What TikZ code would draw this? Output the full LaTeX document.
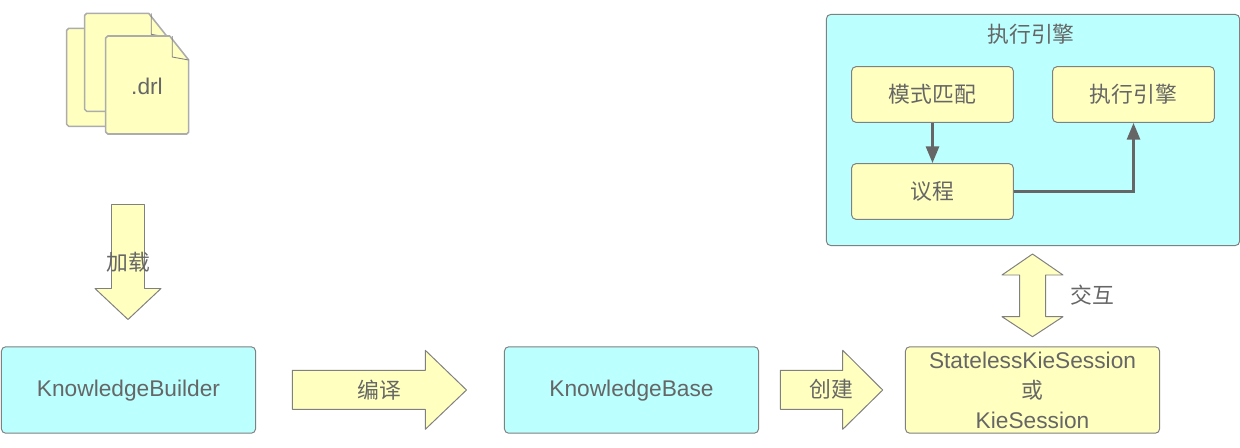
\documentclass[tikz,border=0pt]{standalone}
\usepackage{fontspec}
\usepackage{xcolor}
\setmainfont{Liberation Sans}
\newfontfamily\cjk[Scale=0.96]{Noto Sans CJK SC}
\usetikzlibrary{arrows.meta, positioning}
\definecolor{paleyellow}{HTML}{FFFFC0}
\definecolor{palecyan}{HTML}{BBFFFF}
\definecolor{inkgray}{HTML}{666666}
\definecolor{edgegray}{HTML}{808080}

\begin{document}
\begin{tikzpicture}[
  x=0.025cm,
  y=-0.025cm,
  box/.style={
    rectangle,
    draw=edgegray,
    fill=#1,
    line width=0.7pt,
    rounded corners=3pt,
    inner sep=0pt,
    text=inkgray,
    align=center,
    font=\fontsize{16.15}{21.3}\selectfont
  },
  bigbox/.style={box=#1, minimum width=6.35cm, minimum height=2.16cm},
  smallbox/.style={box=paleyellow, minimum width=4.04cm, minimum height=1.39cm},
  page/.style={draw=edgegray!65, fill=paleyellow, line width=1.1pt, line join=round},
  fold/.style={draw=edgegray, line width=0.6pt},
  blockarrow/.style={draw=edgegray, fill=paleyellow, line width=0.7pt, line join=round},
  tag/.style={inner sep=0pt, text=inkgray, font=\fontsize{16.15}{21.3}\selectfont},
  flow/.style={
    -{Triangle[length=0.42cm, width=0.32cm]},
    line width=2.3pt,
    draw=inkgray
  }
]
\useasboundingbox (0,0) rectangle (1240,447);

% Stack of rule files
\foreach \px/\py in {66.7/28.3, 84.7/13.3, 105.7/36} {
  \draw[page] (\px+2,\py) -- (\px+64,\py) -- (\px+83,\py+24)
    -- (\px+83,\py+96) -- (\px+81,\py+98) -- (\px+2,\py+98)
    -- (\px,\py+96) -- (\px,\py+2) -- cycle;
  \draw[fold] (\px+66.5,\py) -- (\px+66.5,\py+21) -- (\px+83,\py+24);
}
\node[tag] (drl) at (147,86) {.drl};

% Load arrow
\draw[blockarrow] (111.5,204.5) -- (144.5,204.5) -- (144.5,288.5) -- (161,288.5)
  -- (128,319.5) -- (95,288.5) -- (111.5,288.5) -- cycle;
\node[tag] (load) at (128,262) {\cjk 加载};

% Bottom row
\node[bigbox=palecyan, text depth=2pt] (kb) at (128.5,390) {KnowledgeBuilder};
\node[bigbox=palecyan, text depth=2pt] (kbase) at (631.5,390) {KnowledgeBase};
\node[bigbox=paleyellow] (ks) at (1032.5,390) {StatelessKieSession\\{\cjk 或}\\KieSession};

% Compile and create arrows
\draw[blockarrow] (292.3,370.3) -- (425.3,370.3) -- (425.3,350.3) -- (466.5,390)
  -- (425.3,429.3) -- (425.3,409.3) -- (292.3,409.3) -- cycle;
\node[tag] (compile) at (379,390) {\cjk 编译};
\draw[blockarrow] (780.3,370.3) -- (842.7,370.3) -- (842.7,350.3) -- (882.7,390)
  -- (842.7,429.3) -- (842.7,409.3) -- (780.3,409.3) -- cycle;
\node[tag] (create) at (831.5,389.5) {\cjk 创建};

% Interaction arrow
\draw[blockarrow] (1032.5,254) -- (1063,275) -- (1045.7,275) -- (1045.7,316.7) -- (1063,316.7)
  -- (1032.5,336.7) -- (1002,316.7) -- (1019.7,316.7) -- (1019.7,275) -- (1002,275) -- cycle;
\node[tag] (talk) at (1092,295) {\cjk 交互};

% Engine panel
\node[box=palecyan, minimum width=10.325cm, minimum height=5.775cm] (engine) at (1033,130) {};
\node[tag] (enginetitle) at (1031,34) {\cjk 执行引擎};
\node[smallbox] (match) at (932.5,94.5) {\cjk 模式匹配};
\node[smallbox] (exec) at (1133.5,94.5) {\cjk 执行引擎};
\node[smallbox] (agenda) at (932.5,191.5) {\cjk 议程};

\draw[flow] (match) -- (agenda);
\draw[flow] (agenda.east) -| (exec.south);
\end{tikzpicture}
\end{document}
